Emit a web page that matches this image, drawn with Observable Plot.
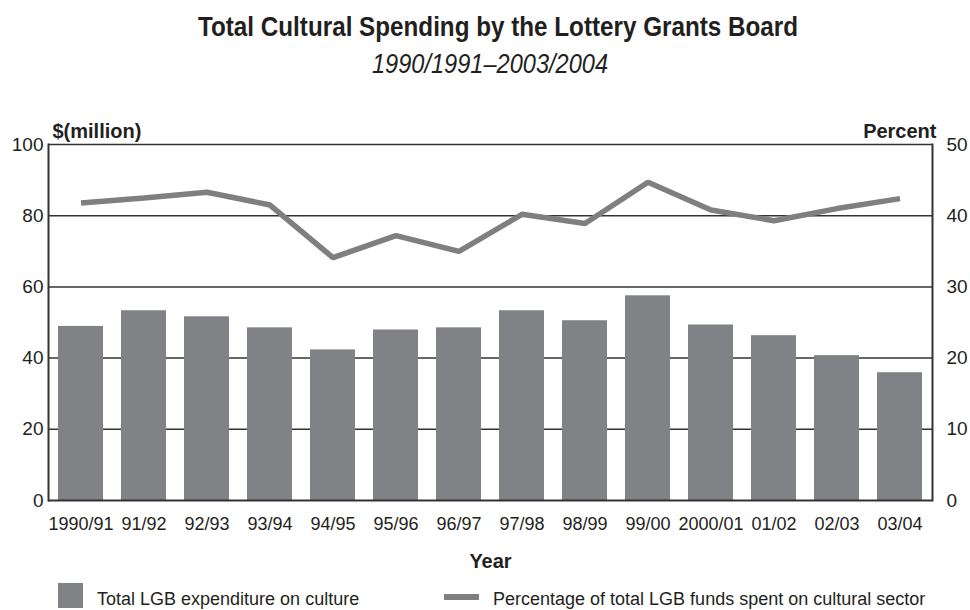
<!DOCTYPE html>
<html>
<head>
<meta charset="utf-8">
<script src="https://cdn.jsdelivr.net/npm/d3@7"></script>
<script src="https://cdn.jsdelivr.net/npm/@observablehq/plot@0.6"></script>
<style>
  html, body { margin: 0; padding: 0; background: #fff; }
  body { position: relative; width: 970px; height: 610px; overflow: hidden; font-family: "Liberation Sans", Arial, sans-serif; color: #231f20; }
  #title { position: absolute; left: 0; top: 0; }
  #chart { position: absolute; left: 0; top: 100px; }
  .leg { position: absolute; font-size: 18px; line-height: 20px; color: #231f20; white-space: nowrap; }
  .sw { position: absolute; background: #818286; }
</style>
</head>
<body>
<svg id="title" width="970" height="100">
  <text x="198" y="36" textLength="600" lengthAdjust="spacingAndGlyphs" font-family="'Liberation Sans', Arial, sans-serif" font-weight="bold" font-size="28" fill="#231f20">Total Cultural Spending by the Lottery Grants Board</text>
  <text x="372" y="73" textLength="236" lengthAdjust="spacingAndGlyphs" font-family="'Liberation Sans', Arial, sans-serif" font-style="italic" font-size="27" fill="#231f20">1990/1991–2003/2004</text>
</svg>
<div id="chart"></div>
<div class="sw" style="left:58px; top:583px; width:25px; height:25px;"></div>
<div class="leg" style="left:97px; top:589px;">Total LGB expenditure on culture</div>
<div class="sw" style="left:444px; top:594px; width:35px; height:6px; background:#7f7f82;"></div>
<div class="leg" style="left:493px; top:589px;">Percentage of total LGB funds spent on cultural sector</div>
<script>
const years = ["1990/91","91/92","92/93","93/94","94/95","95/96","96/97","97/98","98/99","99/00","2000/01","01/02","02/03","03/04"];
const spending = [48.9, 53.3, 51.6, 48.5, 42.3, 47.9, 48.5, 53.3, 50.5, 57.5, 49.3, 46.3, 40.7, 35.9];
const percentCulture = [41.8, 42.5, 43.3, 41.5, 34.1, 37.2, 35.0, 40.2, 38.9, 44.7, 40.8, 39.3, 41.0, 42.4];
const leftTicks = [0, 20, 40, 60, 80, 100];
const gridTicks = [20, 40, 60, 80, 100];

const data = years.map((y, i) => ({year: y, spending: spending[i], pct: percentCulture[i]}));

const chart = Plot.plot({
  width: 970,
  height: 480,
  marginTop: 44,
  marginBottom: 80,
  marginLeft: 48,
  marginRight: 38,
  style: {fontFamily: "'Liberation Sans', Arial, sans-serif", color: "#231f20", background: "#fff"},
  x: {domain: years, paddingInner: 0.28, paddingOuter: 0.14},
  y: {domain: [0, 100]},
  marks: [
    Plot.ruleY(gridTicks, {stroke: "#333", strokeWidth: 1.5}),
    Plot.barY(data, {x: "year", y: "spending", fill: "#818286"}),
    Plot.ruleY([0], {stroke: "#333", strokeWidth: 2}),
    Plot.line(data, {x: "year", y: d => d.pct * 2, stroke: "#7f7f82", strokeWidth: 5.5, strokeLinejoin: "miter", strokeLinecap: "butt"}),
    Plot.axisY(leftTicks, {anchor: "left", tickSize: 0, tickPadding: 5, fontSize: 19, label: null}),
    Plot.axisY(leftTicks, {anchor: "right", tickSize: 0, tickPadding: 14, fontSize: 19, tickFormat: d => d / 2, label: null}),
    Plot.axisX({tickSize: 0, tickPadding: 17, fontSize: 18, label: null}),
    Plot.frame({anchor: "left", stroke: "#333", strokeWidth: 2}),
    Plot.frame({anchor: "right", stroke: "#333", strokeWidth: 2}),
    Plot.text(["$(million)"], {frameAnchor: "top-left", dx: 4, dy: -13, fontSize: 20, fontWeight: "bold", lineAnchor: "middle"}),
    Plot.text(["Percent"], {frameAnchor: "top-right", dx: 4, dy: -13, fontSize: 20, fontWeight: "bold", lineAnchor: "middle"}),
    Plot.text(["Year"], {frameAnchor: "bottom", dy: 61, fontSize: 20, fontWeight: "bold", lineAnchor: "middle"})
  ]
});
document.getElementById("chart").appendChild(chart);
</script>
</body>
</html>
